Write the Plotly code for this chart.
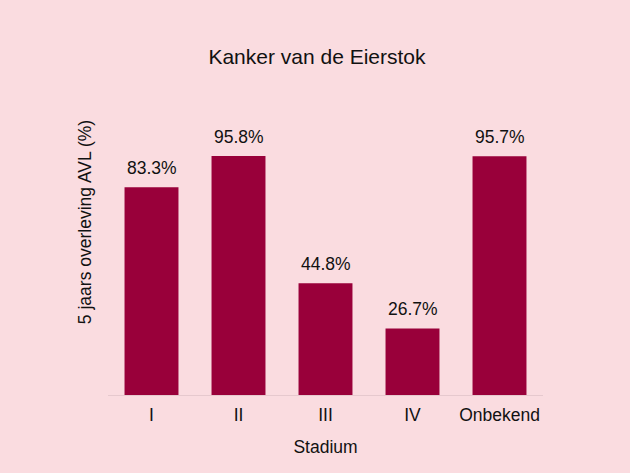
import plotly.graph_objects as go

categories = ["I", "II", "III", "IV", "Onbekend"]
values = [83.3, 95.8, 44.8, 26.7, 95.7]
labels = ["83.3%", "95.8%", "44.8%", "26.7%", "95.7%"]

BG = "#fadce0"
BAR = "#99003a"
FONT = "Liberation Sans, Arial, Helvetica, sans-serif"

fig = go.Figure(go.Bar(
    x=categories, y=values,
    marker=dict(color=BAR, line=dict(width=0)),
    cliponaxis=False, width=0.62, hoverinfo="x+y",
))

for c, v, t in zip(categories, values, labels):
    fig.add_annotation(x=c, y=v, text=t, showarrow=False, yanchor="middle",
                       yshift=19, font=dict(size=17.5, color="#111111", family=FONT))

fig.update_layout(
    width=630, height=473,
    paper_bgcolor=BG, plot_bgcolor=BG,
    margin=dict(l=108, r=87, t=49, b=78, autoexpand=False),
    font=dict(family=FONT, size=17.5, color="#111111"),
    title=dict(text="Kanker van de Eierstok", x=317/630, xanchor="center",
               y=1 - 57/473, yanchor="middle", yref="container",
               font=dict(size=21, family=FONT, color="#111111")),
    showlegend=False,
)
fig.update_xaxes(
    showline=True, linecolor="#e6c9ce", linewidth=1, ticks="",
    tickfont=dict(size=17.5), ticklabelstandoff=4,
    title=dict(text="Stadium", standoff=16, font=dict(size=17.5)),
    showgrid=False,
)
fig.update_yaxes(
    range=[0, 138.7], showticklabels=False, showgrid=False, zeroline=False,
    showline=False, ticks="",
    title=dict(text="5 jaars overleving AVL (%)", standoff=10, font=dict(size=17.5)),
)

fig.write_html("out.html")
